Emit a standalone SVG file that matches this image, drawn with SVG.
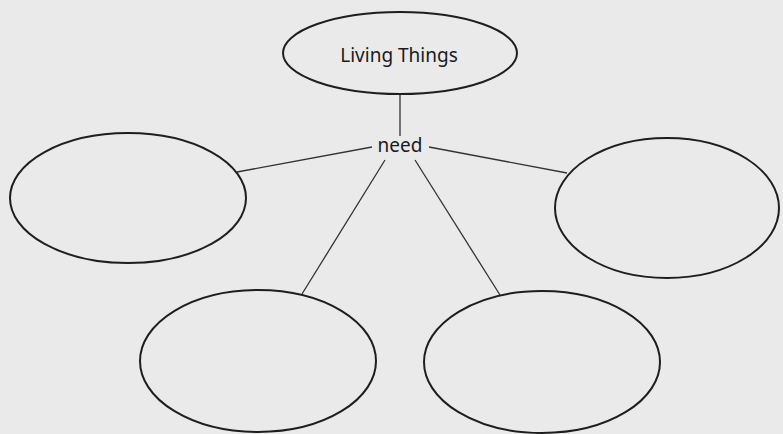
<svg xmlns="http://www.w3.org/2000/svg" width="783" height="434" viewBox="0 0 783 434">
  <style>
    .node { fill: none; stroke: #1e1e1e; stroke-width: 2; }
    .edge { stroke: #333333; stroke-width: 1.3; fill: none; }
    .label { font-family: "Noto Sans", "Open Sans", sans-serif; fill: #1a1a1a; text-anchor: middle; font-size: 19px; }
  </style>
  <rect x="0" y="0" width="783" height="434" fill="#eaeaea"/>
  <g id="connectors">
    <line class="edge" x1="400" y1="94" x2="400" y2="136"/>
    <line class="edge" x1="372" y1="147" x2="237" y2="172"/>
    <line class="edge" x1="429" y1="147" x2="567" y2="173"/>
    <line class="edge" x1="385" y1="160" x2="302" y2="294"/>
    <line class="edge" x1="415" y1="160" x2="500" y2="295"/>
  </g>
  <g id="living-things">
    <ellipse class="node" cx="400" cy="53" rx="117" ry="41"/>
    <text class="label" x="399" y="62">Living Things</text>
  </g>
  <g id="need">
    <text class="label" x="400" y="152">need</text>
  </g>
  <g id="need-left">
    <ellipse class="node" cx="128" cy="198" rx="118" ry="65"/>
  </g>
  <g id="need-right">
    <ellipse class="node" cx="667" cy="208" rx="112" ry="70"/>
  </g>
  <g id="need-bottom-left">
    <ellipse class="node" cx="258" cy="361" rx="118" ry="71"/>
  </g>
  <g id="need-bottom-right">
    <ellipse class="node" cx="542" cy="362" rx="118" ry="71"/>
  </g>
</svg>
